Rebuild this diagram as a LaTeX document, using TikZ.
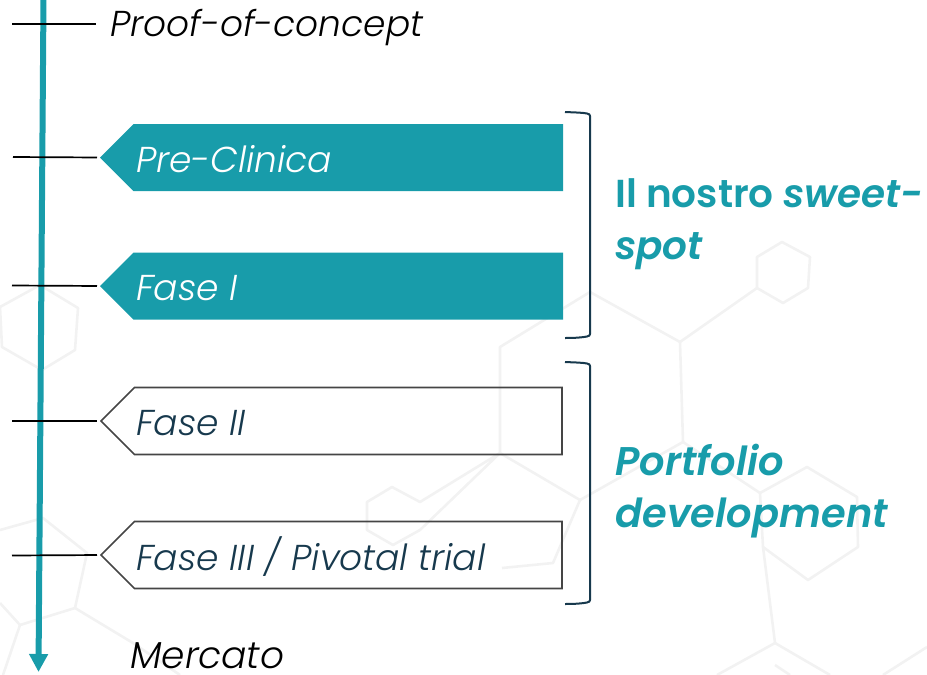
\documentclass[tikz,border=0pt]{standalone}
\usepackage{fontspec}
\setmainfont{Poppins Light}[ItalicFont={Poppins Light Italic},BoldFont={Poppins SemiBold},BoldItalicFont={Poppins SemiBold Italic}]
\usetikzlibrary{calc,positioning,arrows.meta,shapes.symbols}
\definecolor{tealfase}{HTML}{189CAA}
\definecolor{darkfase}{HTML}{17394D}
\definecolor{edgefase}{HTML}{454545}
\definecolor{molecule}{HTML}{F2F2F2}
\tikzset{
  fasebox/.style={signal, signal to=west, signal from=nowhere, signal pointer angle=90,
    minimum height=67pt, inner sep=0pt, outer sep=0pt, anchor=east},
  fullbox/.style={fasebox, minimum width=463pt, fill=tealfase},
  openbox/.style={fasebox, minimum width=461pt, draw=edgefase, line width=1.7pt},
  tick/.style={black, line width=1.7pt},
  bracket/.style={darkfase, line width=2pt},
  faselabel/.style={anchor=base west, inner sep=0pt, font=\fontsize{36}{36}\selectfont\itshape},
  sidelabel/.style={anchor=north west, inner sep=0pt, align=left, text=tealfase,
    font=\fontsize{39}{52}\selectfont\bfseries},
  bond/.style={molecule, line width=2.6pt, line join=round}
}
\begin{document}
\begin{tikzpicture}[x=1pt,y=-1pt]
\useasboundingbox (0,0) rectangle (927,675);
% molecule in the background
\draw[bond] (782,242) -- (810,257) -- (808,288) -- (783,303) -- (757,288) -- (757,257) -- cycle;
\draw[bond] (757,288) -- (680,342);
\draw[bond] (680,342) -- (590,292) -- (500,347) -- (500,453) -- (580,500) -- (683,442) -- cycle;
\draw[bond] (500,453) -- (420,502) -- (392,487) -- (367,502) -- (367,530) -- (393,545) -- (420,530) -- cycle;
\draw[bond] (580,500) -- (553,563) -- (502,568);
\draw[bond] (807,467) -- (857,497) -- (858,547) -- (808,580) -- (763,547) -- (760,493) -- cycle;
\draw[bond] (683,442) -- (760,493);
\draw[bond] (763,547) -- (775,643) -- (717,675);
\draw[bond] (775,643) -- (830,675);
\draw[bond] (775,665) -- (790,675);
\draw[bond] (927,647) -- (883,675);
\draw[bond] (40,285) -- (78,308) -- (75,350) -- (42,370) -- (2,347) -- (0,307) -- cycle;
\draw[bond] (0,530) -- (43,518) -- (87,553) -- (75,608) -- (20,625) -- (0,603);
\draw[bond] (75,608) -- (133,643) -- (180,675);
\draw[bond] (20,625) -- (3,675);
% the axis
\coordinate (axistop) at (43.5,-2);
\coordinate (axisend) at (38.5,672);
\draw[tealfase, line width=6pt, -{Triangle[length=18pt,width=18pt]}] (axistop) -- (axisend);
% phases
\node[fullbox] (preclinica) at (563,157.5) {};
\node[fullbox] (faseone) at (563,286) {};
\node[openbox] (fasetwo) at (562,421) {};
\node[openbox] (fasethree) at (562,555) {};
\node[faselabel, text=white] (preclinicatext) at (136,172) {Pre-Clinica};
\node[faselabel, text=white] (faseonetext) at (136,300) {Fase I};
\node[faselabel, text=darkfase] (fasetwotext) at (136,435) {Fase II};
\node[faselabel, text=darkfase] (fasethreetext) at (136,570) {Fase III / Pivotal trial};
\node[faselabel] (proof) at (110,36) {Proof-of-concept};
\node[faselabel, font=\fontsize{37.5}{37.5}\selectfont\itshape] (mercato) at (130,668) {Mercato};
% ticks
\coordinate (tickproof) at (12,24);
\coordinate (tickproofend) at (96,24);
\coordinate (tickpre) at (13,157);
\coordinate (tickone) at (12,285.5);
\coordinate (ticktwo) at (12,421);
\coordinate (tickthree) at (12,555.5);
\draw[tick] (tickproof) -- (tickproofend);
\draw[tick, shorten >=3pt] (tickpre) -- (preclinica.west);
\draw[tick, shorten >=3pt] (tickone) -- (faseone.west);
\draw[tick, shorten >=4pt] (ticktwo) -- (fasetwo.west);
\draw[tick, shorten >=4pt] (tickthree) -- (fasethree.west);
% brackets
\draw[bracket] (565,112) .. controls (575,112.5) and (582,112.5) .. (587,113.5) .. controls (589,114) and (590,114.5) .. (590,116)
  -- (590,334) .. controls (590,335.5) and (589,336) .. (587,336.5) .. controls (582,337.5) and (575,338) .. (565,338);
\draw[bracket] (565,362) .. controls (575,362.5) and (582,362.5) .. (587,363.5) .. controls (589,364) and (590,364.5) .. (590,366)
  -- (590,600) .. controls (590,601.5) and (589,602) .. (587,602.5) .. controls (582,603.5) and (575,604) .. (565,604);
\node[sidelabel] (sweetspot) at (615,178) {Il nostro \textit{sweet-}\\\textit{spot}};
\node[sidelabel, font=\fontsize{40}{52}\selectfont\bfseries] (portfolio) at (615,444) {\textit{Portfolio}\\\textit{development}};
\end{tikzpicture}
\end{document}
